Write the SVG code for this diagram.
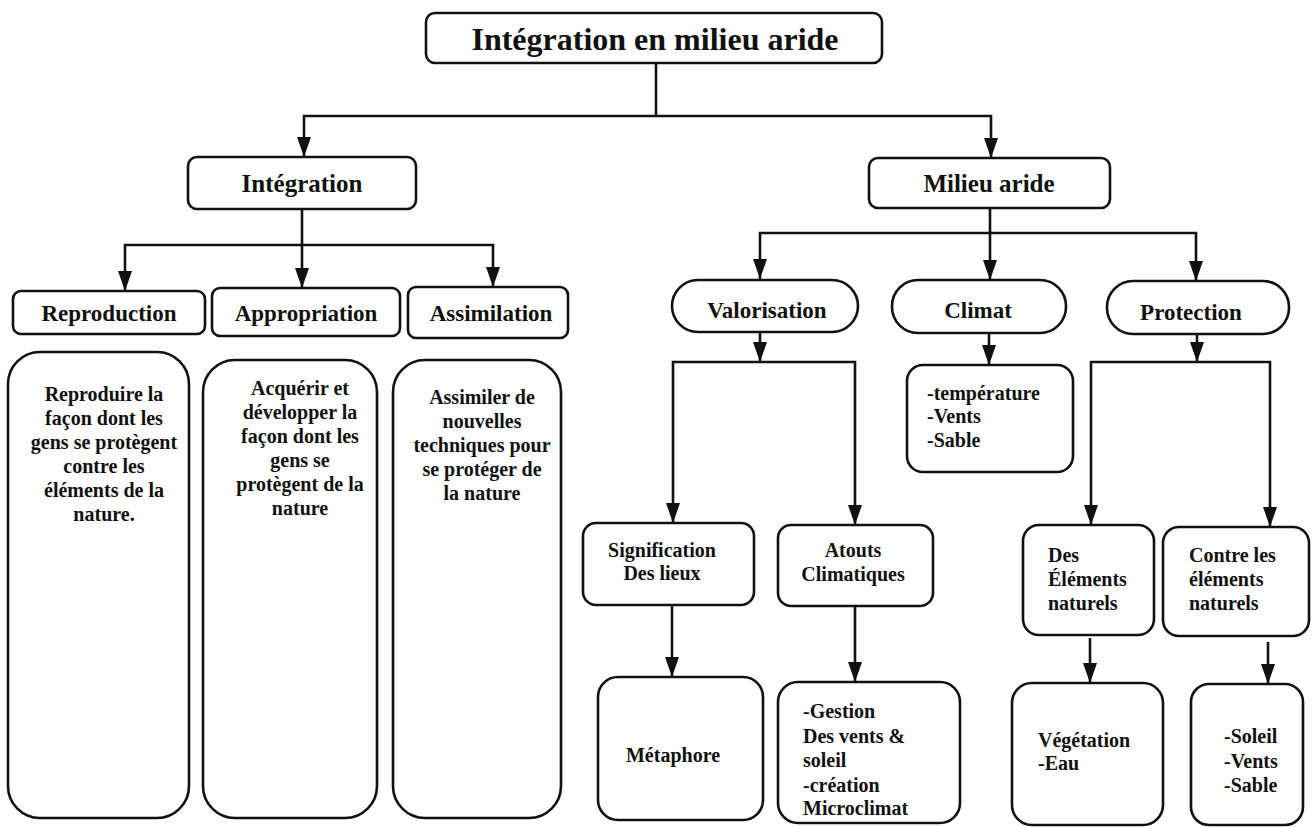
<svg xmlns="http://www.w3.org/2000/svg" width="1312" height="827" viewBox="0 0 1312 827">
<style>
.box{fill:#fff;stroke:#111;stroke-width:2.6}
.ln{fill:none;stroke:#111;stroke-width:2.6}
text{font-weight:bold;fill:#111}
.t0{font-size:32px;text-anchor:middle}
.t1{font-size:25px;text-anchor:middle}
.t2{font-size:23px;text-anchor:middle}
.t3{font-size:20px;text-anchor:middle}
.t3l{font-size:20px}
</style>
<defs>
<marker id="ah" viewBox="0 0 20 14" refX="20" refY="7" markerWidth="20" markerHeight="14" markerUnits="userSpaceOnUse" orient="auto">
<path d="M0,0 L20,7 L0,14 z" fill="#111"/>
</marker>
</defs>
<rect width="1312" height="827" fill="#fff"/>

<g id="connectors">
<path class="ln" d="M656,63 V116"/>
<path class="ln" d="M656,116 H304 V157" marker-end="url(#ah)"/>
<path class="ln" d="M656,116 H991 V158" marker-end="url(#ah)"/>
<path class="ln" d="M302,209 V288" marker-end="url(#ah)"/>
<path class="ln" d="M302,245 H125 V291" marker-end="url(#ah)"/>
<path class="ln" d="M302,245 H493 V287" marker-end="url(#ah)"/>
<path class="ln" d="M990,208 V280" marker-end="url(#ah)"/>
<path class="ln" d="M990,233 H760 V279" marker-end="url(#ah)"/>
<path class="ln" d="M990,233 H1196 V281" marker-end="url(#ah)"/>
<path class="ln" d="M760,332 V362" marker-end="url(#ah)"/>
<path class="ln" d="M760,362 H673 V523" marker-end="url(#ah)"/>
<path class="ln" d="M760,362 H855 V525" marker-end="url(#ah)"/>
<path class="ln" d="M989,333 V365" marker-end="url(#ah)"/>
<path class="ln" d="M1197,334 V362" marker-end="url(#ah)"/>
<path class="ln" d="M1197,362 H1091 V525" marker-end="url(#ah)"/>
<path class="ln" d="M1197,362 H1270 V527" marker-end="url(#ah)"/>
<path class="ln" d="M672,605 V677" marker-end="url(#ah)"/>
<path class="ln" d="M855,606 V682" marker-end="url(#ah)"/>
<path class="ln" d="M1090,638 V683" marker-end="url(#ah)"/>
<path class="ln" d="M1268,642 V684" marker-end="url(#ah)"/>
</g>

<g font-family="Liberation Serif, DejaVu Serif, serif">
<g id="n-root">
<rect class="box" x="426" y="13" width="456" height="50" rx="9"/>
<text class="t0" x="655" y="50">Intégration en milieu aride</text>
</g>
<g id="n-integration">
<rect class="box" x="188" y="157" width="228" height="52" rx="9"/>
<text class="t1" x="302" y="192">Intégration</text>
</g>
<g id="n-milieu">
<rect class="box" x="869" y="158" width="241" height="50" rx="9"/>
<text class="t1" x="989" y="192">Milieu aride</text>
</g>

<g id="n-reproduction">
<rect class="box" x="13" y="291" width="192" height="43" rx="8"/>
<text class="t2" x="109" y="321">Reproduction</text>
</g>
<g id="n-appropriation">
<rect class="box" x="212" y="288" width="188" height="48" rx="8"/>
<text class="t2" x="306" y="321">Appropriation</text>
</g>
<g id="n-assimilation">
<rect class="box" x="408" y="287" width="160" height="51" rx="8"/>
<text class="t2" x="491" y="321">Assimilation</text>
</g>

<g id="n-reproduction-desc">
<rect class="box" x="8" y="352" width="181" height="466" rx="32"/>
<text class="t3" x="104" y="401">Reproduire la</text>
<text class="t3" x="104" y="425">façon dont les</text>
<text class="t3" x="104" y="449">gens se protègent</text>
<text class="t3" x="104" y="473">contre les</text>
<text class="t3" x="104" y="497">éléments de la</text>
<text class="t3" x="104" y="521">nature.</text>
</g>
<g id="n-appropriation-desc">
<rect class="box" x="203" y="360" width="174" height="458" rx="32"/>
<text class="t3" x="300" y="395">Acquérir et</text>
<text class="t3" x="300" y="419">développer la</text>
<text class="t3" x="300" y="443">façon dont les</text>
<text class="t3" x="300" y="467">gens se</text>
<text class="t3" x="300" y="491">protègent de la</text>
<text class="t3" x="300" y="515">nature</text>
</g>
<g id="n-assimilation-desc">
<rect class="box" x="393" y="360" width="168" height="458" rx="32"/>
<text class="t3" x="482" y="404">Assimiler de</text>
<text class="t3" x="482" y="428">nouvelles</text>
<text class="t3" x="482" y="452">techniques pour</text>
<text class="t3" x="482" y="476">se protéger de</text>
<text class="t3" x="482" y="500">la nature</text>
</g>

<g id="n-valorisation">
<rect class="box" x="672" y="280" width="186" height="52" rx="26"/>
<text class="t2" x="767" y="318">Valorisation</text>
</g>
<g id="n-climat">
<rect class="box" x="892" y="280" width="174" height="53" rx="26"/>
<text class="t2" x="978" y="318">Climat</text>
</g>
<g id="n-protection">
<rect class="box" x="1107" y="281" width="182" height="53" rx="26"/>
<text class="t2" x="1191" y="320">Protection</text>
</g>

<g id="n-climat-desc">
<rect class="box" x="907" y="365" width="166" height="107" rx="16"/>
<text class="t3l" x="927" y="400">-température</text>
<text class="t3l" x="927" y="423">-Vents</text>
<text class="t3l" x="927" y="447">-Sable</text>
</g>

<g id="n-signification">
<rect class="box" x="583" y="523" width="171" height="82" rx="13"/>
<text class="t3" x="662" y="557">Signification</text>
<text class="t3" x="662" y="580">Des lieux</text>
</g>
<g id="n-atouts">
<rect class="box" x="778" y="525" width="155" height="81" rx="13"/>
<text class="t3" x="853" y="557">Atouts</text>
<text class="t3" x="853" y="581">Climatiques</text>
</g>
<g id="n-des-elements">
<rect class="box" x="1023" y="525" width="131" height="110" rx="16"/>
<text class="t3l" x="1048" y="562">Des</text>
<text class="t3l" x="1048" y="586">Éléments</text>
<text class="t3l" x="1048" y="610">naturels</text>
</g>
<g id="n-contre">
<rect class="box" x="1163" y="527" width="146" height="109" rx="16"/>
<text class="t3l" x="1189" y="562">Contre les</text>
<text class="t3l" x="1189" y="586">éléments</text>
<text class="t3l" x="1189" y="610">naturels</text>
</g>

<g id="n-metaphore">
<rect class="box" x="598" y="677" width="165" height="143" rx="20"/>
<text class="t3" x="673" y="762">Métaphore</text>
</g>
<g id="n-gestion">
<rect class="box" x="778" y="682" width="182" height="141" rx="20"/>
<text class="t3l" x="803" y="718">-Gestion</text>
<text class="t3l" x="803" y="743">Des vents &amp;</text>
<text class="t3l" x="803" y="767">soleil</text>
<text class="t3l" x="803" y="792">-création</text>
<text class="t3l" x="803" y="815">Microclimat</text>
</g>
<g id="n-vegetation">
<rect class="box" x="1012" y="683" width="151" height="142" rx="20"/>
<text class="t3l" x="1038" y="747">Végétation</text>
<text class="t3l" x="1038" y="770">-Eau</text>
</g>
<g id="n-soleil">
<rect class="box" x="1191" y="684" width="112" height="141" rx="18"/>
<text class="t3l" x="1224" y="743">-Soleil</text>
<text class="t3l" x="1224" y="768">-Vents</text>
<text class="t3l" x="1224" y="792">-Sable</text>
</g>
</g>
</svg>
